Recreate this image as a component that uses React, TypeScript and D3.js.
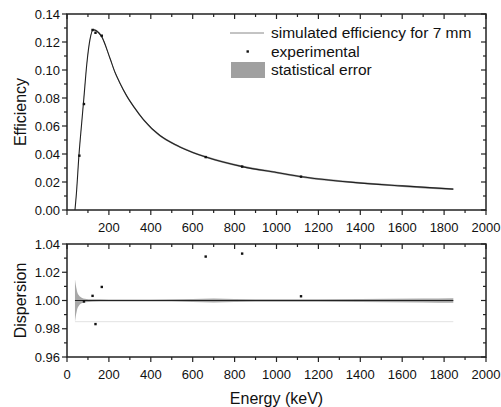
import * as d3 from "d3";
import { useEffect, useRef } from "react";

// simulated efficiency curve
const simEnergy = [38, 45, 57, 70, 80, 95, 110, 125, 140, 165, 206, 230, 250, 285, 320, 365, 445, 493, 541, 663, 837, 1000, 1120, 1354, 1600, 1844];
const simEff = [0, 0.012, 0.039, 0.062, 0.079, 0.105, 0.122, 0.1288, 0.128, 0.124, 0.108, 0.098, 0.0915, 0.0815, 0.0735, 0.0645, 0.053, 0.0485, 0.0449, 0.0378, 0.031, 0.0268, 0.0238, 0.0199, 0.0172, 0.0149];

// experimental points
const expEnergy = [59, 81, 122, 136, 166, 662, 836, 1117];
const expEff = [0.0388, 0.0757, 0.1286, 0.1266, 0.1245, 0.0378, 0.031, 0.0238];

// dispersion points (no value for the first energy)
const dispEnergy = [81, 122, 136, 166, 662, 836, 1117];
const dispValue = [0.9993, 1.0033, 0.9833, 1.0096, 1.0311, 1.0332, 1.003];

// statistical error band in the dispersion panel (half width)
const bandEnergy = [38, 42, 46, 50, 55, 60, 70, 85, 120, 200, 400, 600, 700, 800, 1000, 1400, 1700, 1844];
const bandHalf = [0.015, 0.011, 0.008, 0.0055, 0.004, 0.003, 0.002, 0.0012, 0.0008, 0.0007, 0.0007, 0.001, 0.0014, 0.001, 0.0008, 0.001, 0.0014, 0.0016];
const lowerLine = 0.985;

const legendItems = ["simulated efficiency for 7 mm", "experimental", "statistical error"];

const W = 501;
const H = 407;
const left = 67;
const right = 486;
const FONT = "'Liberation Sans', Arial, sans-serif";
const AX = "#222";

const App = () => {
  const svgRef = useRef<SVGSVGElement | null>(null);

  useEffect(() => {
    const svg = d3.select(svgRef.current);
    svg.selectAll("*").remove();
    svg.append("rect").attr("width", W).attr("height", H).attr("fill", "white");

    const x = d3.scaleLinear().domain([0, 2000]).range([left, right]);
    const yTop = d3.scaleLinear().domain([0, 0.14]).range([210, 14]);
    const yBot = d3.scaleLinear().domain([0.96, 1.04]).range([357, 244]);

    const xMajor = d3.range(0, 2001, 200);
    const xMinor = d3.range(100, 2000, 200);

    const frame = (
      y: d3.ScaleLinear<number, number>,
      yMajor: number[],
      yMinor: number[],
      fmt: (v: number) => string,
      xLabels: number[]
    ) => {
      const [y0, y1] = y.range();
      const g = svg.append("g");
      const tick = (x1: number, y1_: number, x2: number, y2: number) =>
        g.append("line").attr("x1", x1).attr("y1", y1_).attr("x2", x2).attr("y2", y2)
          .attr("stroke", AX).attr("stroke-width", 1.2);
      // x ticks: bottom outward, top inward
      xMajor.forEach((v) => {
        tick(x(v), y0, x(v), y0 + 5);
        tick(x(v), y1, x(v), y1 + 5);
      });
      xMinor.forEach((v) => {
        tick(x(v), y0, x(v), y0 + 3);
        tick(x(v), y1, x(v), y1 + 3);
      });
      // y ticks: left outward, right inward
      yMajor.forEach((v) => {
        tick(left - 5, y(v), left, y(v));
        tick(right - 5, y(v), right, y(v));
      });
      yMinor.forEach((v) => {
        tick(left - 3, y(v), left, y(v));
        tick(right - 3, y(v), right, y(v));
      });
      g.append("rect").attr("x", left).attr("y", y1).attr("width", right - left)
        .attr("height", y0 - y1).attr("fill", "none").attr("stroke", AX).attr("stroke-width", 1.5);
      g.selectAll(".yl").data(yMajor).join("text")
        .attr("x", left - 7).attr("y", (d) => y(d)).attr("dy", "0.35em")
        .attr("text-anchor", "end").attr("font-size", 13).attr("font-family", FONT)
        .attr("fill", "#111").text(fmt);
      g.selectAll(".xl").data(xLabels).join("text")
        .attr("x", (d) => x(d)).attr("y", y0 + 17).attr("dy", "0.35em")
        .attr("text-anchor", "middle").attr("font-size", 13).attr("font-family", FONT)
        .attr("fill", "#111").text((d) => String(d));
    };

    frame(
      yTop,
      d3.range(0, 0.1401, 0.02),
      d3.range(0.01, 0.14, 0.02),
      d3.format(".2f"),
      xMajor.slice(1)
    );
    frame(
      yBot,
      [0.96, 0.98, 1.0, 1.02, 1.04],
      [0.97, 0.99, 1.01, 1.03],
      d3.format(".2f"),
      xMajor
    );

    // top panel: error band + curve
    const simData = simEnergy.map((e, i) => ({ e, v: simEff[i] }));
    svg.append("path")
      .attr("d", d3.area<{ e: number; v: number }>()
        .x((d) => x(d.e))
        .y0((d) => yTop(Math.max(0, d.v - 0.0007)))
        .y1((d) => yTop(d.v + 0.0007))
        .curve(d3.curveMonotoneX)(simData))
      .attr("fill", "#9a9a9a");
    svg.append("path")
      .attr("d", d3.line<{ e: number; v: number }>()
        .x((d) => x(d.e)).y((d) => yTop(d.v))
        .curve(d3.curveMonotoneX)(simData))
      .attr("fill", "none").attr("stroke", "#222").attr("stroke-width", 1.1);

    svg.selectAll(".exp").data(expEnergy).join("rect")
      .attr("x", (d) => x(d) - 1.2).attr("y", (d, i) => yTop(expEff[i]) - 1.2)
      .attr("width", 2.4).attr("height", 2.4).attr("fill", "#111");

    // bottom panel
    const bandData = bandEnergy.map((e, i) => ({ e, h: bandHalf[i] }));
    svg.append("line")
      .attr("x1", x(bandEnergy[0])).attr("x2", x(bandEnergy[bandEnergy.length - 1]))
      .attr("y1", yBot(lowerLine)).attr("y2", yBot(lowerLine))
      .attr("stroke", "#e2e2e2").attr("stroke-width", 1);
    svg.append("path")
      .attr("d", d3.area<{ e: number; h: number }>()
        .x((d) => x(d.e))
        .y0((d) => yBot(1 - d.h)).y1((d) => yBot(1 + d.h))
        .curve(d3.curveMonotoneX)(bandData))
      .attr("fill", "#a8a8a8");
    svg.append("line")
      .attr("x1", x(bandEnergy[0])).attr("x2", x(bandEnergy[bandEnergy.length - 1]))
      .attr("y1", yBot(1)).attr("y2", yBot(1))
      .attr("stroke", "#222").attr("stroke-width", 1.1);
    svg.selectAll(".disp").data(dispEnergy).join("rect")
      .attr("x", (d) => x(d) - 1.2).attr("y", (d, i) => yBot(dispValue[i]) - 1.2)
      .attr("width", 2.4).attr("height", 2.4).attr("fill", "#111");

    // axis titles
    svg.append("text").attr("transform", `translate(26,${yTop(0.07)}) rotate(-90)`)
      .attr("text-anchor", "middle").attr("font-size", 16).attr("font-family", FONT)
      .attr("fill", "#111").text("Efficiency");
    svg.append("text").attr("transform", `translate(26,${yBot(1)}) rotate(-90)`)
      .attr("text-anchor", "middle").attr("font-size", 16).attr("font-family", FONT)
      .attr("fill", "#111").text("Dispersion");
    svg.append("text").attr("x", (left + right) / 2).attr("y", 398).attr("dy", "0.35em")
      .attr("text-anchor", "middle").attr("font-size", 16).attr("font-family", FONT)
      .attr("fill", "#111").text("Energy (keV)");

    // legend
    const lg = svg.append("g");
    const ly = [33, 51.5, 70];
    lg.append("line").attr("x1", 230).attr("x2", 264).attr("y1", ly[0]).attr("y2", ly[0])
      .attr("stroke", "#888").attr("stroke-width", 1);
    lg.append("rect").attr("x", 246.5).attr("y", ly[1] - 1.2).attr("width", 2.4).attr("height", 2.4)
      .attr("fill", "#111");
    lg.append("rect").attr("x", 231).attr("y", ly[2] - 8).attr("width", 34).attr("height", 16)
      .attr("fill", "#a0a0a0");
    lg.selectAll(".lt").data(legendItems).join("text")
      .attr("x", 271).attr("y", (d, i) => ly[i]).attr("dy", "0.35em")
      .attr("font-size", 15.5).attr("font-family", FONT).attr("fill", "#111").text((d) => d);
  }, []);

  return (
    <svg
      ref={svgRef}
      width={W}
      height={H}
      style={{ position: "absolute", left: 0, top: 0 }}
    />
  );
};

export default App;
